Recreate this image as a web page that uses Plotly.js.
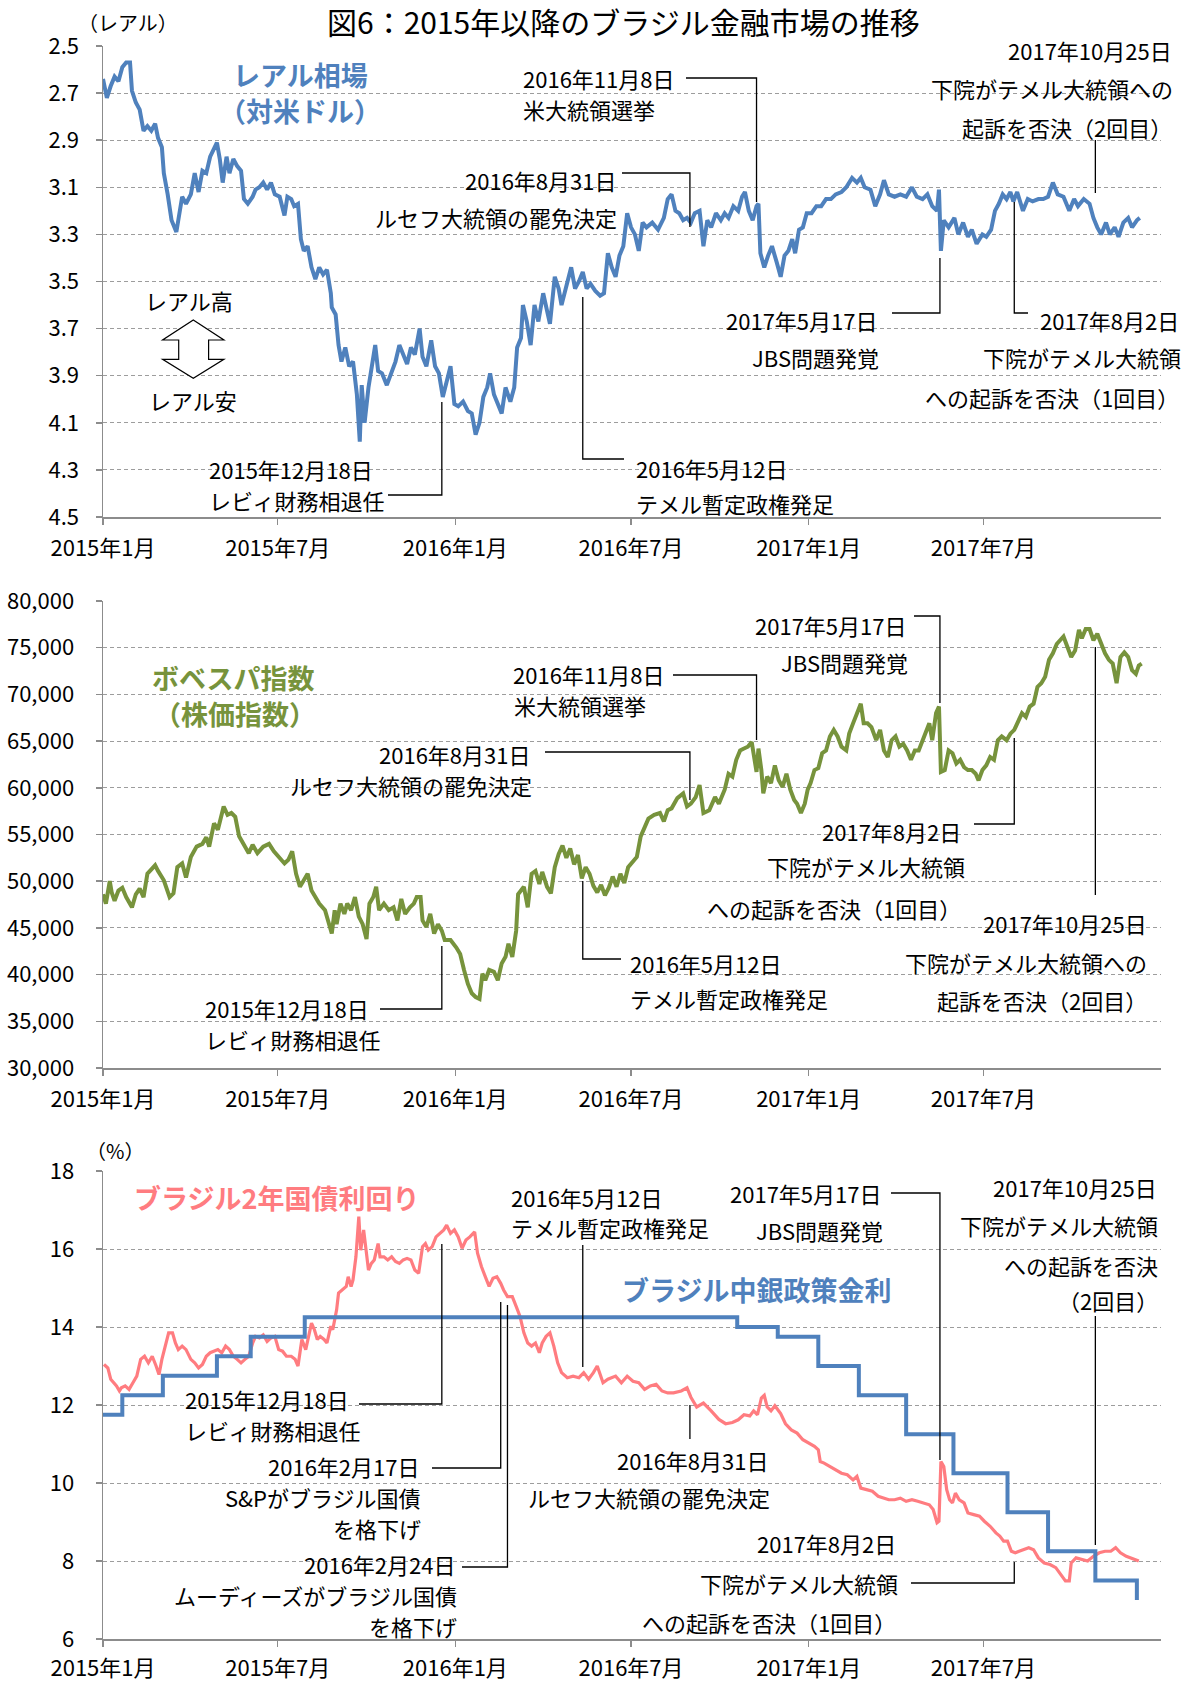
<!DOCTYPE html>
<html>
<head>
<meta charset="utf-8">
<script src="https://cdn.plot.ly/plotly-3.0.1.min.js"></script>
<style>
html,body{margin:0;padding:0;background:#fff;}
#chart{width:1190px;height:1684px;}
</style>
</head>
<body>
<div id="chart"></div>
<script>
// ===================== DATA =====================
// Each pair: [days since 2015-01-01, value]

// Real exchange rate (BRL per USD)
const brlUsd = [
[0,2.64],[4,2.72],[8,2.67],[12,2.63],[16,2.65],[20,2.59],[24,2.57],[28,2.57],[30,2.69],[34,2.74],
[38,2.77],[42,2.86],[46,2.84],[50,2.86],[54,2.83],[57,2.89],[61,2.93],[63,3.04],[67,3.13],[71,3.24],
[76,3.29],[79,3.21],[82,3.14],[86,3.17],[91,3.13],[95,3.04],[99,3.12],[103,3.03],[107,3.04],[111,2.97],
[115,2.93],[118,2.91],[121,2.98],[124,3.08],[128,2.97],[131,3.04],[135,2.98],[139,3.01],[143,3.03],[146,3.15],
[150,3.17],[155,3.14],[158,3.11],[162,3.10],[166,3.08],[170,3.11],[174,3.08],[178,3.13],[183,3.14],[188,3.22],
[191,3.14],[195,3.15],[198,3.18],[202,3.17],[205,3.32],[208,3.37],[212,3.35],[216,3.44],[220,3.49],[224,3.44],
[228,3.47],[232,3.45],[236,3.55],[237,3.61],[241,3.64],[244,3.77],[247,3.84],[251,3.78],[255,3.86],[259,3.84],
[263,3.98],[266,4.18],[268,3.94],[271,4.10],[275,3.95],[279,3.86],[282,3.77],[285,3.88],[289,3.89],[294,3.94],
[299,3.88],[303,3.84],[307,3.77],[311,3.81],[315,3.85],[319,3.78],[323,3.81],[328,3.70],[331,3.82],[335,3.86],
[340,3.75],[344,3.86],[348,3.89],[352,3.99],[356,3.93],[360,3.86],[364,4.02],[368,4.03],[373,4.01],[378,4.05],
[382,4.06],[386,4.15],[390,4.10],[394,3.99],[398,3.95],[401,3.89],[405,3.98],[408,4.01],[413,4.06],[417,3.95],
[422,4.01],[426,3.95],[429,3.78],[433,3.74],[435,3.60],[439,3.67],[443,3.77],[447,3.60],[451,3.67],[456,3.55],
[460,3.62],[463,3.68],[468,3.48],[472,3.53],[475,3.60],[479,3.53],[485,3.44],[489,3.53],[493,3.50],[497,3.46],
[501,3.53],[505,3.51],[510,3.54],[515,3.56],[519,3.55],[523,3.38],[527,3.44],[531,3.48],[535,3.39],[539,3.35],
[543,3.21],[547,3.27],[551,3.30],[555,3.37],[559,3.25],[563,3.27],[569,3.25],[575,3.28],[581,3.23],[585,3.15],
[589,3.13],[593,3.20],[597,3.21],[601,3.24],[605,3.23],[609,3.25],[613,3.21],[618,3.20],[622,3.35],[626,3.24],
[630,3.27],[635,3.21],[640,3.24],[644,3.21],[648,3.23],[653,3.18],[658,3.20],[662,3.14],[665,3.12],[669,3.20],
[673,3.24],[677,3.18],[679,3.17],[681,3.38],[685,3.44],[689,3.39],[693,3.35],[698,3.42],[702,3.48],[706,3.39],
[710,3.37],[714,3.32],[717,3.38],[721,3.28],[725,3.27],[729,3.21],[734,3.21],[739,3.18],[744,3.18],[749,3.15],
[754,3.15],[759,3.13],[765,3.12],[770,3.10],[776,3.06],[781,3.08],[785,3.06],[789,3.10],[795,3.11],[800,3.18],
[805,3.13],[809,3.07],[814,3.13],[820,3.14],[826,3.13],[832,3.14],[838,3.10],[843,3.14],[849,3.15],[854,3.13],
[859,3.18],[864,3.20],[866,3.11],[868,3.37],[871,3.24],[876,3.27],[882,3.23],[886,3.30],[891,3.25],[896,3.31],
[900,3.28],[905,3.34],[911,3.30],[915,3.31],[920,3.28],[924,3.20],[928,3.17],[932,3.13],[936,3.15],[940,3.12],
[943,3.16],[947,3.12],[953,3.20],[958,3.15],[963,3.16],[969,3.15],[974,3.15],[979,3.14],[984,3.08],[989,3.13],
[995,3.14],[1001,3.20],[1006,3.15],[1010,3.18],[1016,3.15],[1022,3.17],[1026,3.23],[1030,3.27],[1034,3.30],[1039,3.25],
[1043,3.30],[1048,3.27],[1052,3.31],[1057,3.25],[1062,3.23],[1066,3.27],[1071,3.24],[1074,3.23]
];

// Bovespa index
const bovespa = [
[0,48600],[3,47600],[7,50000],[9,48800],[12,47900],[16,49000],[20,49300],[24,48300],[30,47200],[34,48600],
[38,49200],[42,48300],[46,50800],[50,51300],[54,51700],[57,51100],[63,50100],[69,48300],[73,48700],[77,51500],
[82,51900],[86,50400],[91,52600],[97,53700],[103,54000],[107,54700],[110,53700],[115,56200],[119,55500],[125,58000],
[129,57100],[133,57300],[137,56900],[141,54800],[147,53700],[151,53000],[155,53900],[160,53000],[166,53700],[172,54000],
[177,53200],[182,52600],[188,51900],[192,52300],[196,53200],[200,50800],[204,49400],[208,50100],[212,50800],[216,49000],
[220,48300],[224,47600],[230,46900],[234,45400],[237,44400],[240,46900],[242,45400],[246,47600],[250,46500],[253,47600],
[257,46900],[261,48300],[265,46200],[269,45400],[273,43800],[276,47600],[280,48300],[283,49400],[286,46900],[291,47600],
[296,46900],[301,47200],[305,45800],[309,48100],[313,46500],[318,47200],[322,47600],[325,48300],[329,48300],[331,45800],
[335,45100],[339,46500],[343,44400],[347,45400],[351,44700],[354,43700],[360,43700],[366,42900],[370,42200],[374,40500],
[378,39000],[382,38000],[386,37600],[390,37400],[393,40100],[396,39400],[400,40500],[405,40300],[409,39400],[413,41200],
[417,41900],[420,43300],[424,41900],[428,44700],[430,48600],[433,49000],[436,49400],[440,47200],[444,50800],[448,51100],
[452,49700],[455,51000],[460,49400],[464,48700],[468,51500],[472,52900],[476,53800],[480,52500],[484,53500],[488,51800],
[492,52800],[496,50300],[500,51500],[504,50800],[508,49500],[512,48800],[516,49600],[520,48500],[524,49300],[528,50500],
[532,49400],[536,50800],[540,49800],[544,51500],[547,51900],[553,52600],[557,54800],[561,55800],[565,56700],[571,57100],
[577,57300],[581,56400],[585,57600],[589,57800],[595,58900],[601,59400],[605,58000],[609,58300],[614,59000],[618,60300],
[622,57300],[628,57600],[634,59000],[638,58300],[644,59800],[648,61500],[652,61200],[656,63000],[660,64000],[664,64200],
[668,64400],[672,64900],[675,63300],[677,61700],[679,64200],[682,61900],[684,59400],[688,61200],[692,60500],[696,62400],
[700,60800],[704,60100],[708,61500],[712,59800],[716,58700],[719,58300],[723,57300],[727,58300],[730,59800],[733,60500],
[737,61900],[741,62100],[745,63700],[749,64000],[753,65500],[757,66200],[761,65500],[765,64400],[770,64000],[773,65800],
[777,66900],[781,68000],[785,69000],[788,66900],[792,66900],[796,66500],[801,65100],[805,66200],[809,64000],[813,63300],
[817,65100],[821,65500],[825,64400],[829,64700],[833,64000],[837,63000],[841,64000],[845,64000],[849,65100],[853,66200],
[856,66900],[859,65100],[863,68000],[866,68700],[868,61700],[872,61900],[876,64000],[880,63700],[884,62600],[888,63000],
[892,62200],[896,61900],[900,61900],[904,61500],[907,60800],[911,61900],[915,62400],[919,63300],[923,63000],[927,65100],
[931,65500],[936,65100],[940,65800],[944,66200],[948,67200],[952,68000],[956,67600],[960,68700],[964,69000],[968,70800],
[972,71200],[976,71900],[980,73700],[984,74400],[988,75400],[992,75800],[995,76200],[999,75100],[1003,74000],[1007,74700],
[1011,76900],[1014,76000],[1018,77000],[1022,77000],[1026,75800],[1030,76500],[1034,75400],[1038,74400],[1042,73700],[1046,73300],
[1050,71200],[1054,74000],[1058,74500],[1062,74000],[1066,72600],[1070,72200],[1073,73100],[1076,73300]
];

// Brazil 2-year government bond yield (%)
const bond2y = [
[1,13.04],[5,12.95],[8,12.66],[11,12.57],[14,12.49],[17,12.36],[19,12.44],[23,12.49],[27,12.40],[31,12.57],
[35,12.74],[39,13.17],[43,13.25],[47,13.08],[51,13.25],[55,13.00],[58,12.78],[61,13.17],[65,13.59],[68,13.85],
[72,13.85],[75,13.59],[78,13.42],[82,13.51],[86,13.42],[91,13.17],[95,13.08],[99,12.95],[103,13.04],[107,13.25],
[111,13.34],[115,13.38],[119,13.42],[123,13.34],[127,13.51],[131,13.42],[135,13.25],[139,13.17],[143,13.08],[147,13.17],
[151,13.25],[155,13.59],[158,13.76],[162,13.72],[166,13.80],[170,13.63],[174,13.72],[178,13.76],[182,13.42],[186,13.38],
[190,13.25],[195,13.25],[199,13.17],[202,13.00],[206,13.68],[210,13.42],[213,13.76],[216,14.10],[219,13.93],[222,13.68],
[225,13.76],[229,13.68],[232,13.59],[236,14.02],[238,13.93],[242,14.44],[244,14.87],[248,14.95],[252,15.04],[254,15.29],
[257,15.04],[259,15.21],[262,15.80],[265,16.83],[267,15.97],[270,16.49],[273,15.80],[275,15.46],[278,15.63],[281,15.72],
[285,16.14],[287,15.80],[291,15.80],[295,15.72],[299,15.80],[303,15.68],[307,15.63],[311,15.72],[315,15.76],[319,15.72],
[323,15.46],[327,15.38],[331,16.06],[334,16.14],[337,15.97],[341,16.06],[345,16.31],[349,16.40],[353,16.49],[356,16.61],
[360,16.40],[364,16.49],[368,16.31],[372,16.02],[376,16.23],[380,16.31],[385,16.44],[388,15.89],[392,15.55],[396,15.29],
[400,15.04],[404,15.25],[408,15.29],[412,15.12],[415,14.95],[419,14.78],[424,14.78],[428,14.53],[432,14.27],[436,13.85],
[440,13.59],[444,13.51],[448,13.59],[452,13.34],[455,13.59],[459,13.76],[463,13.85],[467,13.51],[471,13.08],[475,12.83],
[481,12.70],[487,12.74],[493,12.70],[498,12.83],[503,12.66],[508,12.83],[512,13.00],[518,12.57],[523,12.66],[531,12.74],
[537,12.57],[543,12.74],[549,12.61],[555,12.57],[561,12.40],[567,12.49],[573,12.53],[579,12.36],[585,12.31],[591,12.31],
[599,12.36],[605,12.44],[609,12.20],[615,11.95],[622,12.05],[630,11.85],[638,11.63],[645,11.52],[652,11.55],[658,11.62],
[664,11.75],[670,11.72],[674,11.85],[678,11.75],[682,12.18],[685,12.25],[688,11.95],[692,11.85],[696,11.98],[702,11.78],
[707,11.52],[713,11.36],[719,11.28],[725,11.11],[731,11.02],[737,10.94],[741,10.85],[743,10.55],[747,10.51],[753,10.42],
[759,10.34],[765,10.25],[771,10.21],[777,10.08],[781,10.17],[785,9.87],[791,9.83],[797,9.79],[803,9.66],[808,9.61],
[814,9.57],[820,9.57],[826,9.61],[832,9.53],[838,9.57],[844,9.53],[850,9.49],[856,9.44],[860,9.32],[864,8.98],
[866,9.02],[868,10.55],[871,10.42],[874,9.83],[877,9.57],[880,9.49],[883,9.74],[887,9.57],[892,9.49],[896,9.23],
[902,9.19],[908,9.15],[913,9.02],[919,8.89],[925,8.72],[929,8.64],[933,8.51],[937,8.51],[941,8.25],[945,8.21],
[949,8.25],[953,8.29],[959,8.34],[964,8.29],[969,8.08],[975,7.95],[981,7.91],[987,7.83],[993,7.61],[997,7.49],
[1001,7.49],[1003,7.95],[1008,8.08],[1014,8.04],[1020,8.00],[1026,8.12],[1032,8.21],[1038,8.25],[1044,8.25],[1049,8.34],
[1054,8.21],[1060,8.12],[1065,8.08],[1070,8.04],[1073,8.00]
];

// Central bank policy rate (SELIC, %) — dates of change
const selicDates = ['2015-01-01','2015-01-21','2015-03-04','2015-04-29','2015-06-03','2015-07-29','2016-10-19','2016-11-30','2017-01-11','2017-02-22','2017-04-12','2017-05-31','2017-07-26','2017-09-06','2017-10-25','2017-12-07'];
const selicRates = [11.75,12.25,12.75,13.25,13.75,14.25,14.00,13.75,13.00,12.25,11.25,10.25,9.25,8.25,7.50,7.00];

// Axis ticks
const tickDates = ['2015-01-01','2015-07-01','2016-01-01','2016-07-01','2017-01-01','2017-07-01'];
const tickLabels = ['2015年1月','2015年7月','2016年1月','2016年7月','2017年1月','2017年7月'];

// Events
const evLevy = '2015-12-18';
const evSP = '2016-02-17';
const evMoodys = '2016-02-24';
const evTemer = '2016-05-12';
const evImpeach = '2016-08-31';
const evElection = '2016-11-08';
const evJBS = '2017-05-17';
const evVote1 = '2017-08-02';
const evVote2 = '2017-10-25';

// ===================== LAYOUT HELPERS =====================
const W = 1190, H = 1684;
const FONT = '"Noto Sans CJK JP", "Noto Sans", sans-serif';
const BLUE = '#4F81BD', GREEN = '#77933C', PINK = '#FF7C80', AX = '#8c8c8c', GRID = '#9d9d9d';
const xDom = [103 / W, 1161 / W];
const X_RANGE = ['2015-01-01', '2018-01-01'];
const T0 = Date.UTC(2015, 0, 1), T1 = Date.UTC(2018, 0, 1);
const dayToDate = d => new Date(T0 + d * 864e5).toISOString().slice(0, 10);
const px = x => x / W;
const py = y => 1 - y / H;
const evX = date => xDom[0] + (Date.parse(date + 'T00:00:00Z') - T0) / (T1 - T0) * (xDom[1] - xDom[0]);

const dom1 = [py(517), py(46)];
const dom2 = [py(1068), py(601)];
const dom3 = [py(1639), py(1171)];

function xAxis(anchor, standoff) {
  return {
    domain: xDom, anchor: anchor, type: 'date', range: X_RANGE,
    tickmode: 'array', tickvals: tickDates, ticktext: tickLabels,
    ticks: 'outside', ticklen: 6, tickwidth: 1.5, tickcolor: AX,
    showline: true, linecolor: AX, linewidth: 1.5,
    showgrid: false, zeroline: false,
    tickfont: {family: FONT, size: 22, color: '#000'},
    ticklabelstandoff: standoff, fixedrange: true
  };
}
function yAxis(anchor, dom, range, tick0, dtick, fmt, standoff) {
  return {
    domain: dom, anchor: anchor, range: range,
    tickmode: 'linear', tick0: tick0, dtick: dtick, tickformat: fmt,
    ticks: 'outside', ticklen: 6, tickwidth: 1.5, tickcolor: AX,
    showline: true, linecolor: AX, linewidth: 1.5,
    showgrid: true, gridcolor: GRID, gridwidth: 1, griddash: '4px,3px',
    zeroline: false,
    tickfont: {family: FONT, size: 22, color: '#000'},
    ticklabelstandoff: standoff, fixedrange: true
  };
}

const traces = [
  {x: brlUsd.map(p => dayToDate(p[0])), y: brlUsd.map(p => p[1]), xaxis: 'x', yaxis: 'y',
   mode: 'lines', line: {color: BLUE, width: 4}, hoverinfo: 'skip'},
  {x: bovespa.map(p => dayToDate(p[0])), y: bovespa.map(p => p[1]), xaxis: 'x2', yaxis: 'y2',
   mode: 'lines', line: {color: GREEN, width: 4}, hoverinfo: 'skip'},
  {x: bond2y.map(p => dayToDate(p[0])), y: bond2y.map(p => p[1]), xaxis: 'x3', yaxis: 'y3',
   mode: 'lines', line: {color: PINK, width: 3.2}, hoverinfo: 'skip'},
  {x: selicDates, y: selicRates, xaxis: 'x3', yaxis: 'y3',
   mode: 'lines', line: {color: BLUE, width: 4, shape: 'hv'}, hoverinfo: 'skip'}
];

// ----- text placements (pixel positions; y = line centre) -----
const annotations = [];
function txt(text, x, y, anchor, opts) {
  opts = opts || {};
  annotations.push({
    text: text, xref: 'paper', yref: 'paper', x: px(x), y: py(y),
    xanchor: anchor, yanchor: 'middle', align: anchor, showarrow: false,
    font: {family: FONT, size: opts.size || 22, color: opts.color || '#000', weight: opts.weight || 'normal'}
  });
}
const seriesFont = c => ({size: 27, color: c, weight: 'bold'});

// Title
txt('図6：2015年以降のブラジル金融市場の推移', 623, 21, 'center', {size: 30});

// Panel 1
txt('（レアル）', 128, 22, 'center', {size: 20});
txt('レアル相場', 300, 74, 'center', seriesFont(BLUE));
txt('（対米ドル）', 300, 111, 'center', seriesFont(BLUE));
txt('2016年11月8日', 521, 78, 'left');
txt('米大統領選挙', 521, 109, 'left');
txt('2016年8月31日', 618, 180, 'right');
txt('ルセフ大統領の罷免決定', 619, 217, 'right');
txt('2017年10月25日', 1174, 50, 'right');
txt('下院がテメル大統領への', 1175, 88, 'right');
txt('起訴を否決（2回目）', 1174, 127, 'right');
txt('2017年5月17日', 879, 320, 'right');
txt('JBS問題発覚', 881, 357, 'right');
txt('2017年8月2日', 1181, 320, 'right');
txt('下院がテメル大統領', 1183, 357, 'right');
txt('への起訴を否決（1回目）', 1181, 397, 'right');
txt('2016年5月12日', 634, 468, 'left');
txt('テメル暫定政権発足', 634, 503, 'left');
txt('2015年12月18日', 207, 469, 'left');
txt('レビィ財務相退任', 207, 500, 'left');
txt('レアル高', 189, 300, 'center');
txt('レアル安', 193, 400, 'center');

// Panel 2
txt('ボベスパ指数', 233, 677, 'center', seriesFont(GREEN));
txt('（株価指数）', 235, 713, 'center', seriesFont(GREEN));
txt('2017年5月17日', 908, 625, 'right');
txt('JBS問題発覚', 910, 662, 'right');
txt('2016年11月8日', 511, 674, 'left');
txt('米大統領選挙', 512, 705, 'left');
txt('2016年8月31日', 532, 754, 'right');
txt('ルセフ大統領の罷免決定', 534, 785, 'right');
txt('2015年12月18日', 203, 1008, 'left');
txt('レビィ財務相退任', 203, 1039, 'left');
txt('2016年5月12日', 628, 963, 'left');
txt('テメル暫定政権発足', 628, 998, 'left');
txt('2017年8月2日', 963, 831, 'right');
txt('下院がテメル大統領', 967, 866, 'right');
txt('への起訴を否決（1回目）', 963, 908, 'right');
txt('2017年10月25日', 1149, 923, 'right');
txt('下院がテメル大統領への', 1149, 962, 'right');
txt('起訴を否決（2回目）', 1149, 1000, 'right');

// Panel 3
txt('（%）', 115, 1150, 'center', {size: 20});
txt('ブラジル2年国債利回り', 276, 1197, 'center', seriesFont(PINK));
txt('ブラジル中銀政策金利', 756, 1289, 'center', seriesFont(BLUE));
txt('2016年5月12日', 509, 1197, 'left');
txt('テメル暫定政権発足', 509, 1227, 'left');
txt('2017年5月17日', 883, 1193, 'right');
txt('JBS問題発覚', 885, 1230, 'right');
txt('2017年10月25日', 1159, 1187, 'right');
txt('下院がテメル大統領', 1160, 1225, 'right');
txt('への起訴を否決', 1160, 1265, 'right');
txt('（2回目）', 1160, 1300, 'right');
txt('2015年12月18日', 183, 1399, 'left');
txt('レビィ財務相退任', 183, 1430, 'left');
txt('2016年2月17日', 421, 1466, 'right');
txt('S&amp;Pがブラジル国債', 423, 1497, 'right');
txt('を格下げ', 423, 1528, 'right');
txt('2016年2月24日', 457, 1564, 'right');
txt('ムーディーズがブラジル国債', 459, 1595, 'right');
txt('を格下げ', 459, 1626, 'right');
txt('2016年8月31日', 770, 1460, 'right');
txt('ルセフ大統領の罷免決定', 772, 1497, 'right');
txt('2017年8月2日', 898, 1543, 'right');
txt('下院がテメル大統領', 900, 1583, 'right');
txt('への起訴を否決（1回目）', 898, 1622, 'right');

// ----- leader lines: [event date, horizontal end x (px) or null, y at elbow (px), y at other end (px)]
const leaders = [
  [evElection, 686, 78, 202], [evImpeach, 622, 173, 227], [evVote2, null, 140, 193],
  [evJBS, 892, 313, 258], [evVote1, 1028, 313, 202], [evTemer, 624, 459, 297], [evLevy, 388, 495, 402],
  [evJBS, 914, 616, 703], [evElection, 673, 675, 740], [evImpeach, 545, 752, 800], [evLevy, 380, 1009, 946],
  [evTemer, 621, 959, 881], [evVote1, 974, 824, 738], [evVote2, null, 647, 895],
  [evTemer, null, 1245, 1367], [evJBS, 891, 1193, 1460], [evVote2, null, 1316, 1545], [evLevy, 359, 1404, 1244],
  [evSP, 432, 1468, 1302], [evMoodys, 462, 1567, 1305], [evImpeach, null, 1405, 1439], [evVote1, 911, 1583, 1562]
];
const shapes = leaders.map(l => {
  const ex = evX(l[0]);
  const path = l[1] === null
    ? `M ${ex},${py(l[2])} L ${ex},${py(l[3])}`
    : `M ${px(l[1])},${py(l[2])} L ${ex},${py(l[2])} L ${ex},${py(l[3])}`;
  return {type: 'path', xref: 'paper', yref: 'paper', path: path, line: {color: '#000', width: 1.3}};
});

// Hollow double arrow (レアル高 ⇔ レアル安)
const arrowPts = [[193.3,320],[223.9,340],[208.6,340],[208.6,359.3],[223.9,359.3],[193.3,378.3],
                  [162.6,359.3],[178.7,359.3],[178.7,340],[162.6,340]];
shapes.push({
  type: 'path', xref: 'paper', yref: 'paper',
  path: 'M ' + arrowPts.map(p => px(p[0]) + ',' + py(p[1])).join(' L ') + ' Z',
  line: {color: '#000', width: 1.2}, fillcolor: '#fff'
});

const layout = {
  width: W, height: H,
  margin: {l: 0, r: 0, t: 0, b: 0},
  paper_bgcolor: '#fff', plot_bgcolor: '#fff',
  showlegend: false,
  font: {family: FONT, color: '#000'},
  xaxis: xAxis('y', 5), xaxis2: xAxis('y2', 5), xaxis3: xAxis('y3', 3),
  yaxis: yAxis('x', dom1, [4.5, 2.5], 2.5, 0.2, '.1f', 12),
  yaxis2: yAxis('x2', dom2, [30000, 80000], 30000, 5000, ',.0f', 17),
  yaxis3: yAxis('x3', dom3, [6, 18], 6, 2, 'd', 17),
  annotations: annotations,
  shapes: shapes
};

Plotly.newPlot('chart', traces, layout, {displayModeBar: false, staticPlot: true});
</script>
</body>
</html>
